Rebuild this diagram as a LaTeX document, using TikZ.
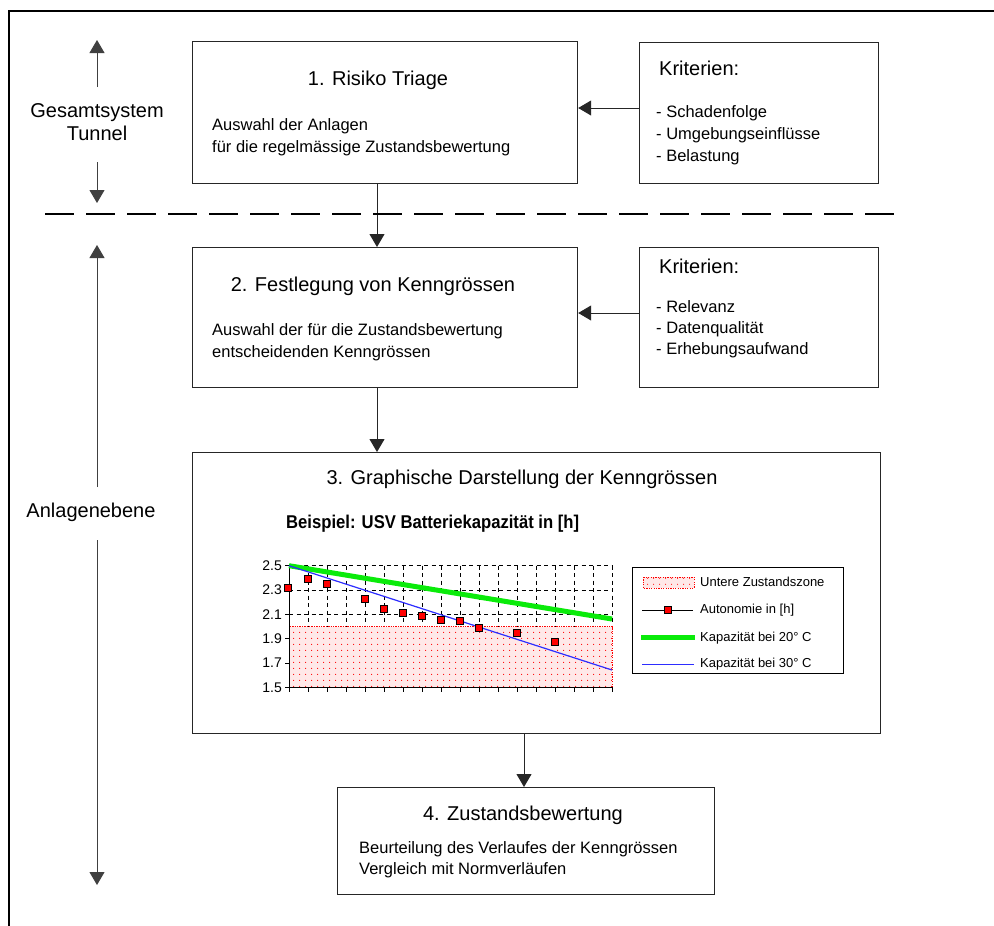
\documentclass[tikz,border=0pt]{standalone}
\usepackage{fontspec}
\setmainfont{Liberation Sans}
\usetikzlibrary{arrows.meta,patterns.meta}
\definecolor{lgreen}{RGB}{10,235,10}
\definecolor{lblue}{RGB}{45,45,255}
\definecolor{zonered}{RGB}{255,232,232}
\begin{document}
\begin{tikzpicture}[x=1bp,y=-1bp,
  box/.style={draw=black!85,line width=1.2bp,fill=white,inner sep=0pt,anchor=north west},
  arr/.style={draw=black!85,line width=1bp,-{Triangle[width=15bp,length=13bp]}},
  sidearr/.style={draw=black!75,line width=0.9bp,-{Triangle[width=15bp,length=13bp]}},
  ttl/.style={font=\fontsize{20bp}{24bp}\selectfont,inner sep=0pt},
  txt/.style={font=\fontsize{16.5bp}{20bp}\selectfont,inner sep=0pt,anchor=base west},
  lgd/.style={font=\fontsize{13bp}{15bp}\selectfont,inner sep=0pt,anchor=west},
  ticklbl/.style={font=\fontsize{14bp}{16bp}\selectfont,inner sep=0pt,anchor=east},
  mk/.style={draw=black,fill=red,line width=0.9bp,minimum size=7bp,inner sep=0pt,rectangle},
  gridl/.style={black,line width=0.8bp,dash pattern=on 4bp off 3.5bp},
  zonefill/.style={fill=zonered},
  zonedots/.style={pattern={Dots[distance=6bp,radius=0.65bp]},pattern color=red},
  zoneedge/.style={draw=red,line width=1bp,dash pattern=on 1.2bp off 1.2bp}
]
\useasboundingbox (0,0) rectangle (994,926);
\fill[white] (0,0) rectangle (994,926);
% outer frame
\coordinate (fa) at (9,926);
\coordinate (fb) at (9,11);
\coordinate (fc) at (994,11);
\draw[line width=2bp] (fa) -- (fb) -- (fc);

% boxes
\node[box,minimum width=385bp,minimum height=142bp] (b1) at (192,41) {};
\node[box,minimum width=239bp,minimum height=141bp] (k1) at (639,42) {};
\node[box,minimum width=385bp,minimum height=140bp] (b2) at (192,247) {};
\node[box,minimum width=239bp,minimum height=140bp] (k2) at (639,247) {};
\node[box,minimum width=688bp,minimum height=281bp] (b3) at (192,452) {};
\node[box,minimum width=377bp,minimum height=107bp] (b4) at (337,787) {};

% box 1
\node[ttl,anchor=base] (t1) at (378,85) {1. Risiko Triage};
\node[txt] (t1a) at (212,130) {Auswahl der Anlagen};
\node[txt] (t1b) at (212,152) {für die regelmässige Zustandsbewertung};
\node[ttl,anchor=base west] (k1t) at (659,75) {Kriterien:};
\node[txt] (k1a) at (656,117) {- Schadenfolge};
\node[txt] (k1b) at (656,139) {- Umgebungseinflüsse};
\node[txt] (k1c) at (656,161) {- Belastung};

% box 2
\node[ttl,anchor=base] (t2) at (373,291) {2. Festlegung von Kenngrössen};
\node[txt] (t2a) at (212,335) {Auswahl der für die Zustandsbewertung};
\node[txt] (t2b) at (212,357) {entscheidenden Kenngrössen};
\node[ttl,anchor=base west] (k2t) at (659,273) {Kriterien:};
\node[txt] (k2a) at (656,312) {- Relevanz};
\node[txt] (k2b) at (656,333) {- Datenqualität};
\node[txt] (k2c) at (656,354) {- Erhebungsaufwand};

% box 3
\node[ttl,anchor=base] (t3) at (522,484) {3. Graphische Darstellung der Kenngrössen};
\node[font=\fontsize{18.5bp}{22bp}\selectfont\bfseries,anchor=base west,inner sep=0pt,xscale=0.9,transform shape] (ct) at (286,528) {Beispiel: USV Batteriekapazität in [h]};

% chart grid
\foreach \yy in {565.7,590,614.3} \draw[gridl] (289,\yy) -- (612,\yy);
\foreach \i in {1,...,17} \draw[gridl] (289+19*\i,565.7) -- (289+19*\i,626.5);
% zone
\fill[zonefill] (289,626.5) rectangle (612,687.3);
\fill[zonedots] (289,626.5) rectangle (612,687.3);
\draw[zoneedge] (289,626.5) rectangle (612,687.3);
% axes
\draw[black,line width=1bp] (289,565.7) -- (289,687.3) -- (612,687.3);
\foreach \i in {0,...,17} \draw[black,line width=0.8bp] (289+19*\i,687.3) -- (289+19*\i,692);
\foreach \yy/\lab [count=\k] in {565.7/2.5,590/2.3,614.3/2.1,638.7/1.9,663/1.7,687.3/1.5}{
  \draw[black,line width=0.8bp] (285,\yy) -- (289,\yy);
  \node[ticklbl] (yl\k) at (282,\yy) {\lab};
}
% series
\draw[lgreen,line width=5bp] (289,565.7) -- (612,619);
\draw[lblue,line width=1.2bp] (289,565.7) -- (612,670);
\foreach \mx/\my [count=\k] in {288/587.7,308/579,327/584.3,365/599.3,384/609,403/612.7,422/615.7,441/619.7,460/621,479/627.7,517/633,555/642.3}
  \node[mk] (m\k) at (\mx,\my) {};

% legend
\node[draw=black,line width=1bp,minimum width=211bp,minimum height=106bp,inner sep=0pt,anchor=north west] (lg) at (632,567) {};
\fill[zonefill] (643,577) rectangle (694,588);
\fill[zonedots] (643,577) rectangle (694,588);
\draw[zoneedge] (643,577) rectangle (694,588);
\node[lgd] (lg1) at (700,581.7) {Untere Zustandszone};
\draw[black,line width=0.9bp] (642,610) -- (693,610);
\node[mk] (lgm) at (668,610) {};
\node[lgd] (lg2) at (700,610) {Autonomie in [h]};
\draw[lgreen,line width=5bp] (641,637.7) -- (695,637.7);
\node[lgd] (lg3) at (700,637.7) {Kapazität bei 20° C};
\draw[lblue,line width=1.2bp] (642,664.3) -- (694,664.3);
\node[lgd] (lg4) at (700,664.3) {Kapazität bei 30° C};

% box 4
\node[ttl,anchor=base] (t4) at (523,820) {4. Zustandsbewertung};
\node[txt] (t4a) at (359,853) {Beurteilung des Verlaufes der Kenngrössen};
\node[txt] (t4b) at (359,874) {Vergleich mit Normverläufen};

% connectors
\coordinate (ax1) at (377,0);
\coordinate (ax2) at (524,0);
\coordinate (ay1) at (0,108);
\coordinate (ay2) at (0,313);
\draw[arr] (b1.south -| ax1) -- (b2.north -| ax1);
\draw[arr] (b2.south -| ax1) -- (b3.north -| ax1);
\draw[arr] (b3.south -| ax2) -- (b4.north -| ax2);
\draw[arr] (k1.west |- ay1) -- (b1.east |- ay1);
\draw[arr] (k2.west |- ay2) -- (b2.east |- ay2);

% dashed separator
\coordinate (dl1) at (45,214);
\coordinate (dl2) at (895,214);
\draw[line width=1.3bp,dash pattern=on 29bp off 12bp] (dl1) -- (dl2);

% side labels
\node[ttl,anchor=base] (gs) at (97,117) {Gesamtsystem};
\node[ttl,anchor=base] (tu) at (97,140) {Tunnel};
\node[ttl,anchor=base] (an) at (91,517) {Anlagenebene};
\coordinate (s1a) at (97,87);
\coordinate (s1b) at (97,40);
\coordinate (s2a) at (97,162);
\coordinate (s2b) at (97,203);
\coordinate (s3a) at (97,487);
\coordinate (s3b) at (97,245);
\coordinate (s4a) at (97,540);
\coordinate (s4b) at (97,885);
\draw[sidearr] (s1a) -- (s1b);
\draw[sidearr] (s2a) -- (s2b);
\draw[sidearr] (s3a) -- (s3b);
\draw[sidearr] (s4a) -- (s4b);
\end{tikzpicture}
\end{document}
